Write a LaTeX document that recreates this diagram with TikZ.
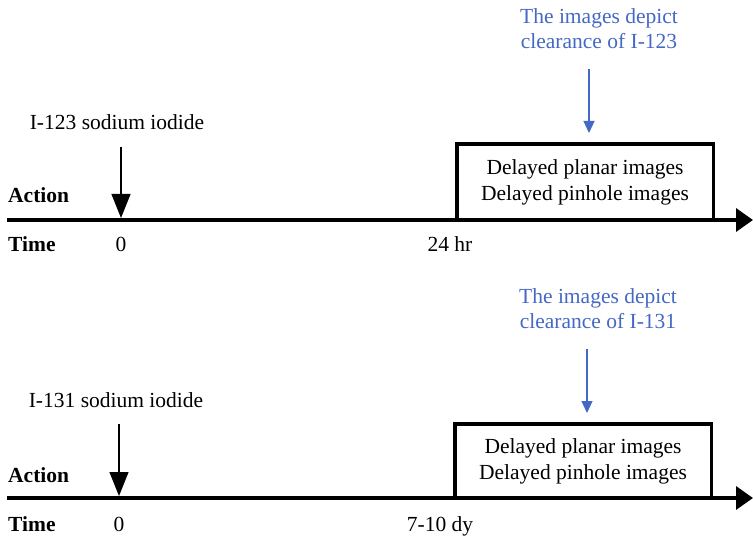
\documentclass[tikz,border=0pt]{standalone}
\usepackage{fontspec}
\setmainfont{Liberation Serif}
\usetikzlibrary{arrows.meta}
\definecolor{noteblue}{RGB}{68,104,196}
\tikzset{>=latex}

\begin{document}
\begin{tikzpicture}[x=1pt,y=-1pt,
    lbl/.style={font=\fontsize{21.5}{25}\selectfont,inner sep=0pt},
    hdr/.style={lbl,font=\fontsize{21.5}{25}\selectfont\bfseries},
    note/.style={lbl,text=noteblue,align=center},
    imgbox/.style={draw,line width=3.5pt,outer sep=0pt,inner sep=0pt,align=center,
                   font=\fontsize{21.5}{26}\selectfont,minimum width=256.5pt},
    axis/.style={line width=3.5pt,-{Triangle[length=17pt,width=23pt]}},
    dose/.style={line width=1.2pt,-{Triangle[length=24pt,width=19pt]}},
    look/.style={noteblue,line width=1.2pt,-{Triangle[length=12pt,width=11pt]}}]
  \useasboundingbox (0,0) rectangle (753,540);

  % I-123
  \coordinate (s1) at (7,220);
  \coordinate (e1) at (753,220);
  \coordinate (z1) at (121,218);
  \node[hdr,anchor=base west] (act1) at (8,203) {Action};
  \node[hdr,anchor=base west] (time1) at (8,252) {Time};
  \node[lbl,anchor=base] (zero1) at (121,252) {0};
  \node[lbl,anchor=base] (late1) at (450,252) {24 hr};
  \node[lbl,anchor=base] (dose1) at (117,130) {I-123 sodium iodide};
  \node[imgbox,minimum height=76pt,anchor=south west] (box1) at (456.75,220)
        {Delayed planar images\\Delayed pinhole images};
  \node[note,anchor=north] (note1) at (599,8) {The images depict\\clearance of I-123};
  \draw[axis] (s1) -- (e1);
  \draw[dose,shorten <=17pt] (dose1.south -| z1) -- (z1);
  \draw[look,shorten <=20pt,shorten >=11pt] ([xshift=4pt]box1.north |- note1.south) -- ([xshift=4pt]box1.north);

  % I-131
  \coordinate (s2) at (7,498);
  \coordinate (e2) at (753,498);
  \coordinate (z2) at (119,496);
  \node[hdr,anchor=base west] (act2) at (8,482) {Action};
  \node[hdr,anchor=base west] (time2) at (8,531) {Time};
  \node[lbl,anchor=base] (zero2) at (119,531) {0};
  \node[lbl,anchor=base] (late2) at (440,531) {7-10 dy};
  \node[lbl,anchor=base] (dose2) at (116,407) {I-131 sodium iodide};
  \node[imgbox,minimum height=74pt,anchor=south west] (box2) at (454.75,498)
        {Delayed planar images\\Delayed pinhole images};
  \node[note,anchor=north] (note2) at (598,288) {The images depict\\clearance of I-131};
  \draw[axis] (s2) -- (e2);
  \draw[dose,shorten <=17pt] (dose2.south -| z2) -- (z2);
  \draw[look,shorten <=20pt,shorten >=11pt] ([xshift=4pt]box2.north |- note2.south) -- ([xshift=4pt]box2.north);
\end{tikzpicture}
\end{document}
